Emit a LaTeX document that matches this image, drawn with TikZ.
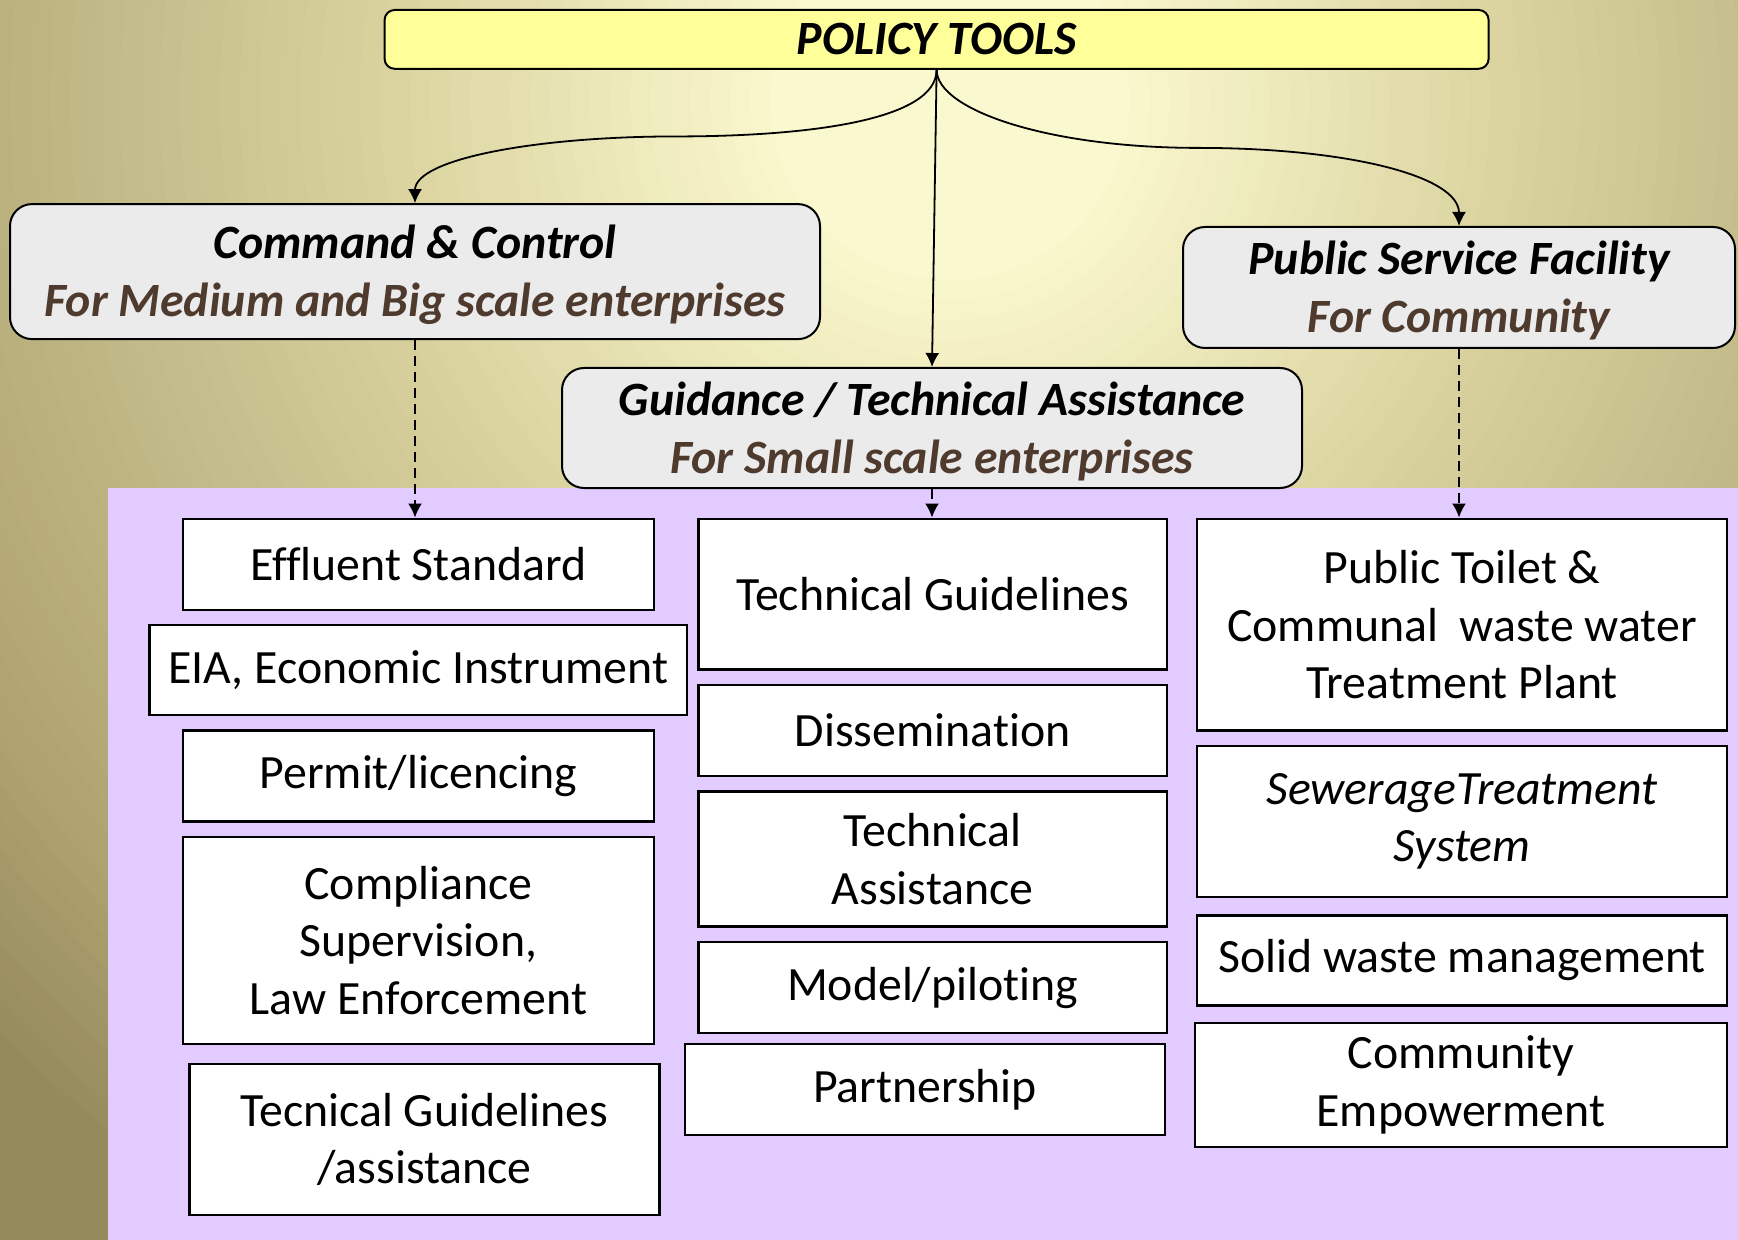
\documentclass[tikz,border=0pt]{standalone}
\usepackage{fontspec}
\setmainfont{Carlito}[Ligatures=NoCommon]
\usetikzlibrary{arrows.meta,calc}

\definecolor{bglight}{HTML}{FAF8CE}
\definecolor{bgsoft}{HTML}{DAD39F}
\definecolor{bgmid}{HTML}{C2BA88}
\definecolor{bgdeep}{HTML}{AEA270}
\definecolor{bgdark}{HTML}{958A5C}
\definecolor{lavender}{HTML}{E2CCFF}
\definecolor{hdrgray}{HTML}{EBEBEB}
\definecolor{toolyellow}{HTML}{FFFF99}
\definecolor{subbrown}{HTML}{4F3A2E}

\begin{document}
\begin{tikzpicture}[x=0.5pt,y=-0.5pt,
	txt/.style={font=\fontsize{23.9}{28.8}\selectfont, align=center, inner sep=0pt},
	hdr/.style={txt, draw, line width=1pt, rounded corners=11pt, fill=hdrgray, font=\fontsize{23.9}{28.8}\selectfont\bfseries\itshape},
	itembox/.style={txt, draw, line width=1.2pt, fill=white},
	flow/.style={-{Latex[length=7pt,width=7pt]}, line width=0.9pt},
	dashflow/.style={flow, dash pattern=on 5pt off 3pt}]

	\useasboundingbox (0,0) rectangle (1738,1240);
	% background glow
	\begin{scope}
		\clip (0,0) rectangle (1738,1240);
		\coordinate (glow) at (950,100);
		\fill[bgdark] (0,0) rectangle (1738,1240);
		\foreach \r in {1350,1330,...,1150} {\pgfmathsetmacro\p{(\r-1150)/2}
			\fill[bgdark!\p!bgdeep] (glow) circle[radius=\r];}
		\foreach \r in {1140,1120,...,860} {\pgfmathsetmacro\p{(\r-850)/3}
			\fill[bgdeep!\p!bgmid] (glow) circle[radius=\r];}
		\foreach \r in {850,830,...,570} {\pgfmathsetmacro\p{(\r-570)/2.8}
			\fill[bgmid!\p!bgsoft] (glow) circle[radius=\r];}
		\foreach \r in {560,540,...,180} {\pgfmathsetmacro\p{(\r-180)/3.9}
			\fill[bgsoft!\p!bglight] (glow) circle[radius=\r];}
	\end{scope}
	\fill[lavender] (107.5,487.7) rectangle (1738,1240);

	% top and the three kinds of tools
	\node[hdr, rounded corners=5pt, fill=toolyellow, minimum width=552pt, minimum height=29.4pt] (pt) at (936.6,39.4) {POLICY TOOLS};
	\node[hdr, minimum width=405pt, minimum height=67.5pt] (cc) at (415,271.6) {\rule{0pt}{20pt}Command \& Control\\\textcolor{subbrown}{For Medium and Big scale enterprises}};
	\node[hdr, minimum width=276pt, minimum height=60.5pt] (psf) at (1459,287.5) {\rule{0pt}{20pt}Public Service Facility\\\textcolor{subbrown}{For Community}};
	\node[hdr, minimum width=370pt, minimum height=60pt] (gta) at (932,428) {\rule{0pt}{20pt}Guidance / Technical Assistance\\\textcolor{subbrown}{For Small scale enterprises}};

	\draw[flow] (pt.south) .. controls +(0,51) and +(130,0) .. ($(pt.south)!.5!(cc.north)$) .. controls +(-140,0) and +(0,-44) .. (cc.north);
	\draw[flow] (pt.south) .. controls +(0,40) and +(-150,0) .. ($(pt.south)!.5!(psf.north)$) .. controls +(150,0) and +(0,-50) .. (psf.north);
	\draw[flow] (pt.south) -- (gta.north);

	% left column
	\node[itembox, minimum width=235.5pt, minimum height=45.5pt] (eff) at (418.4,564.2) {Effluent Standard};
	\node[itembox, minimum width=268.8pt, minimum height=44.9pt] (eia) at (418.4,670) {EIA, Economic Instrument};
	\node[itembox, minimum width=235.5pt, minimum height=45.5pt] (perm) at (418.4,776) {Permit/licencing};
	\node[itembox, minimum width=235.5pt, minimum height=103.6pt] (comp) at (418.4,940.5) {Compliance\\Supervision,\\Law Enforcement};
	\node[itembox, minimum width=235pt, minimum height=75.4pt] (tecg) at (424.5,1139.4) {Tecnical Guidelines\\/assistance};

	% middle column
	\node[itembox, minimum width=234.4pt, minimum height=75.4pt] (tg) at (932.7,594.1) {Technical Guidelines};
	\node[itembox, minimum width=234.4pt, minimum height=45.5pt] (diss) at (932.7,730.4) {Dissemination};
	\node[itembox, minimum width=234.4pt, minimum height=67.6pt] (ta) at (932.7,859) {Technical\\Assistance};
	\node[itembox, minimum width=234.4pt, minimum height=45.5pt] (model) at (932.7,987.6) {Model/piloting};
	\node[itembox, minimum width=240pt, minimum height=45.5pt] (part) at (925,1089.6) {Partnership};

	% right column
	\node[itembox, minimum width=264.9pt, minimum height=105.9pt] (toilet) at (1462,624.6) {Public Toilet \&\\Communal\ \ waste water\\Treatment Plant};
	\node[itembox, minimum width=264.9pt, minimum height=75.4pt] (sew) at (1462,821.3) {\itshape SewerageTreatment\\\itshape System};
	\node[itembox, minimum width=264.9pt, minimum height=44.9pt] (solid) at (1462,960.4) {Solid waste management};
	\node[itembox, minimum width=266pt, minimum height=62.1pt] (comm) at (1460.9,1085.1) {Community\\Empowerment};

	\draw[dashflow] (cc.south) -- (cc.south |- eff.north);
	\draw[dashflow] (gta.south) -- (gta.south |- tg.north);
	\draw[dashflow] (psf.south) -- (psf.south |- toilet.north);
\end{tikzpicture}
\end{document}
